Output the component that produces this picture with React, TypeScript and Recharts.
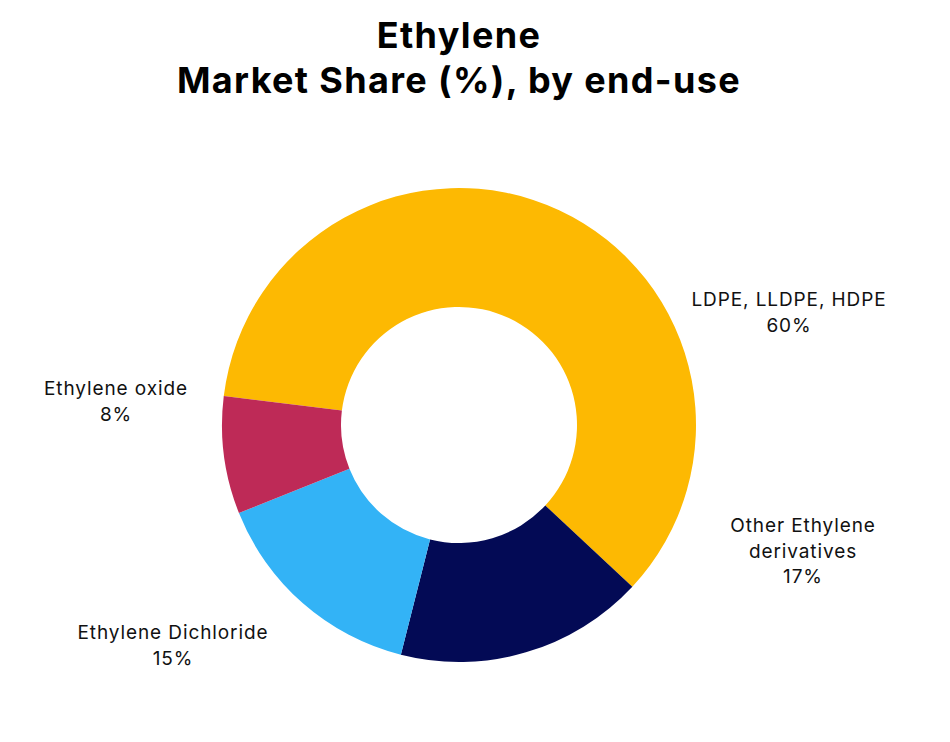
import { PieChart, Pie, Cell } from 'recharts'

const SEGMENTS = ['LDPE, LLDPE, HDPE', 'Other Ethylene derivatives', 'Ethylene Dichloride', 'Ethylene oxide']
const SHARES = [60, 17, 15, 8]
const LABEL_LINES = [
  ['LDPE, LLDPE, HDPE'],
  ['Other Ethylene', 'derivatives'],
  ['Ethylene Dichloride'],
  ['Ethylene oxide'],
]

const COLORS = ['#FDB902', '#030A55', '#33B3F6', '#BE2A57']

// first-line baseline of each label, relative to the donut centre
const LABEL_OFFSETS = [
  { dx: 330, dy: -119 },
  { dx: 344, dy: 107 },
  { dx: -286, dy: 214 },
  { dx: -343, dy: -30 },
]

const FONT = 'Inter, "Noto Sans", sans-serif'

const data = SEGMENTS.map((name, i) => ({ name, value: SHARES[i] }))

function SliceLabel(props: any) {
  const { cx, cy, index } = props
  const off = LABEL_OFFSETS[index]
  const lines = [...LABEL_LINES[index], `${SHARES[index]}%`]
  const lineH = 25.5
  const x = cx + off.dx
  const top = cy + off.dy
  return (
    <text
      x={x}
      y={top}
      textAnchor="middle"
      fill="#111111"
      fontFamily={FONT}
      fontSize={19}
      letterSpacing={0.9}
    >
      {lines.map((l, i) => (
        <tspan key={i} x={x} y={top + i * lineH}>
          {l}
        </tspan>
      ))}
    </text>
  )
}

export default function App() {
  return (
    <div style={{ position: 'absolute', left: 0, top: 0, width: 950, height: 742, background: '#fff' }}>
      <div
        style={{
          position: 'absolute',
          left: 0,
          top: 13,
          width: 918,
          textAlign: 'center',
          fontFamily: FONT,
          fontWeight: 700,
          fontSize: 36,
          letterSpacing: 1.35,
          lineHeight: '45px',
          color: '#000',
        }}
      >
        Ethylene
        <br />
        Market Share (%), by end-use
      </div>
      <PieChart width={950} height={742} margin={{ top: 0, right: 0, bottom: 0, left: 0 }}>
        <Pie
          data={data}
          dataKey="value"
          nameKey="name"
          cx={459}
          cy={425}
          innerRadius={118}
          outerRadius={237}
          startAngle={173}
          endAngle={-187}
          stroke="none"
          labelLine={false}
          label={SliceLabel}
          isAnimationActive={false}
        >
          {data.map((entry, index) => (
            <Cell key={`cell-${index}`} fill={COLORS[index]} />
          ))}
        </Pie>
      </PieChart>
    </div>
  )
}
